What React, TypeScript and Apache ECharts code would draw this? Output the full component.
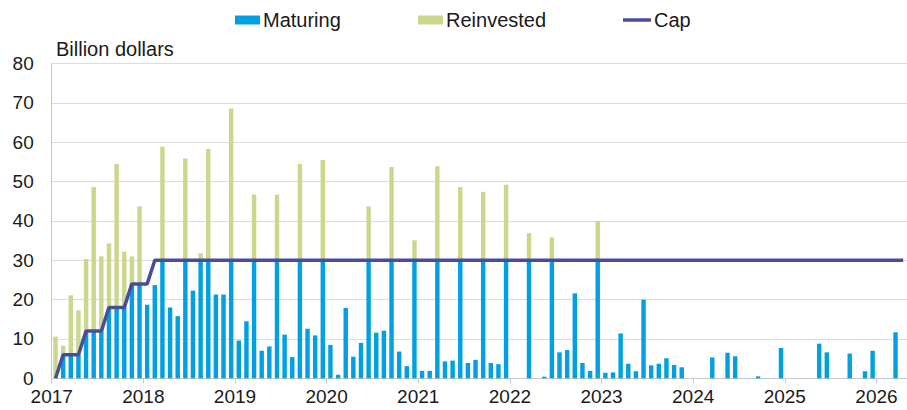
import React, { useEffect, useRef } from "react";
import * as echarts from "echarts";

// Monthly categories: Jan 2017 .. Apr 2026 (112 months)
const yearLabels: string[] = ["2017", "2018", "2019", "2020", "2021", "2022", "2023", "2024", "2025", "2026"];
const months: string[] = [];
for (const y of yearLabels) {
  for (let m = 1; m <= 12; m++) months.push(`${y}-${String(m).padStart(2, "0")}`);
}
const categories = months.slice(0, 112);

const maturing: number[] = [
  0, 6, 6, 6, 12, 12, 12, 18, 18, 18, 24, 24,
  18.7, 23.7, 30, 18.0, 15.8, 30, 22.3, 30, 30, 21.3, 21.3, 30,
  9.6, 14.5, 30, 7.0, 8.1, 30, 11.1, 5.4, 30, 12.6, 10.9, 30,
  8.5, 0.9, 17.9, 5.5, 9.0, 30, 11.6, 12.1, 30, 6.8, 3.1, 30,
  1.9, 1.9, 30, 4.3, 4.5, 30, 3.9, 4.7, 30, 3.9, 3.6, 30,
  0, 0, 30, 0, 0.4, 30, 6.6, 7.2, 21.6, 3.9, 1.9, 30,
  1.4, 1.5, 11.4, 3.7, 1.8, 20.0, 3.3, 3.7, 5.1, 3.4, 2.8, 0,
  0, 0, 5.3, 0, 6.5, 5.6, 0, 0, 0.5, 0, 0, 7.7,
  0, 0, 0, 0, 8.8, 6.6, 0, 0, 6.3, 0, 1.8, 7.0,
  0, 0, 11.7, 0,
];

const reinvested: number[] = [
  10.6, 2.3, 15.1, 11.3, 18.3, 36.6, 19.0, 16.3, 36.5, 14.2, 7.0, 19.7,
  0, 0, 28.9, 0, 0, 25.9, 0, 1.8, 28.3, 0, 0, 38.6,
  0, 0, 16.7, 0, 0, 16.7, 0, 0, 24.5, 0, 0, 25.5,
  0, 0, 0, 0, 0, 13.7, 0, 0, 23.7, 0, 0, 5.1,
  0, 0, 23.9, 0, 0, 18.6, 0, 0, 17.4, 0, 0, 19.2,
  0, 0, 6.9, 0, 0, 5.8, 0, 0, 0, 0, 0, 10.0,
  0, 0, 0, 0, 0, 0, 0, 0, 0, 0, 0, 0,
  0, 0, 0, 0, 0, 0, 0, 0, 0, 0, 0, 0,
  0, 0, 0, 0, 0, 0, 0, 0, 0, 0, 0, 0,
  0, 0, 0, 0,
];

const cap: number[] = [
  0, 6, 6, 6, 12, 12, 12, 18, 18, 18, 24, 24,
  24, 30, 30, 30, 30, 30, 30, 30, 30, 30, 30, 30,
  30, 30, 30, 30, 30, 30, 30, 30, 30, 30, 30, 30,
  30, 30, 30, 30, 30, 30, 30, 30, 30, 30, 30, 30,
  30, 30, 30, 30, 30, 30, 30, 30, 30, 30, 30, 30,
  30, 30, 30, 30, 30, 30, 30, 30, 30, 30, 30, 30,
  30, 30, 30, 30, 30, 30, 30, 30, 30, 30, 30, 30,
  30, 30, 30, 30, 30, 30, 30, 30, 30, 30, 30, 30,
  30, 30, 30, 30, 30, 30, 30, 30, 30, 30, 30, 30,
  30, 30, 30, 30,
];

const BLUE = "#00a0e2";
const GREEN = "#c9d88c";
const CAP = "#4b4b9e";
const FONT = "'Liberation Sans', Arial, sans-serif";
const TXT = "#1a1a1a";
const GRID = "#dcdcdc";

export default function App() {
  const ref = useRef<HTMLDivElement>(null);
  useEffect(() => {
    if (!ref.current) return;
    const chart = echarts.init(ref.current, null, { renderer: "svg" });
    const legendText = { fontFamily: FONT, fontSize: 20, color: TXT, padding: [0, 0, 0, -2] };
    chart.setOption({
      animation: false,
      textStyle: { fontFamily: FONT },
      title: {
        text: "Billion dollars",
        left: 56,
        top: 39,
        padding: 0,
        textStyle: { fontFamily: FONT, fontSize: 20, fontWeight: "normal", color: TXT },
      },
      legend: [
        {
          data: [{ name: "Maturing", icon: "rect" }],
          left: 235, top: 10, padding: 0, itemWidth: 25, itemHeight: 9, textStyle: legendText,
        },
        {
          data: [{ name: "Reinvested", icon: "rect" }],
          left: 418, top: 10, padding: 0, itemWidth: 25, itemHeight: 9, textStyle: legendText,
        },
        {
          data: [{ name: "Cap", icon: "path://M0 0 H28 V3.5 H0 Z" }],
          left: 623, top: 10, padding: 0, itemWidth: 28, itemHeight: 9, textStyle: legendText,
        },
      ],
      grid: { left: 51.7, right: -2, top: 63.6, bottom: 31.7, containLabel: false },
      xAxis: [
        { type: "category", data: categories, show: false, boundaryGap: true },
        {
          type: "value",
          min: 0,
          max: 112,
          interval: 12,
          position: "bottom",
          axisLine: { show: true, lineStyle: { color: "#c8c8c8", width: 1 } },
          axisTick: { show: true, length: 5, lineStyle: { color: "#c8c8c8" } },
          splitLine: { show: false },
          axisLabel: {
            fontFamily: FONT,
            fontSize: 19,
            color: TXT,
            margin: 9,
            showMaxLabel: false,
            formatter: (v: number) => (v % 12 === 0 ? yearLabels[v / 12] ?? "" : ""),
          },
        },
      ],
      yAxis: {
        type: "value",
        min: 0,
        max: 80,
        interval: 10,
        axisLine: { show: true, lineStyle: { color: "#c8c8c8" } },
        axisTick: { show: false },
        splitLine: { show: true, lineStyle: { color: GRID, width: 1 } },
        axisLabel: { fontFamily: FONT, fontSize: 19, color: TXT, margin: 18 },
      },
      series: [
        {
          name: "Maturing",
          type: "bar",
          stack: "total",
          xAxisIndex: 0,
          data: maturing,
          barWidth: "58%",
          itemStyle: { color: BLUE },
        },
        {
          name: "Reinvested",
          type: "bar",
          stack: "total",
          xAxisIndex: 0,
          data: reinvested,
          barWidth: "58%",
          itemStyle: { color: GREEN },
        },
        {
          name: "Cap",
          type: "line",
          xAxisIndex: 0,
          data: cap,
          symbol: "none",
          lineStyle: { color: CAP, width: 3.5 },
          itemStyle: { color: CAP },
          z: 5,
        },
      ],
    });
    return () => chart.dispose();
  }, []);
  return (
    <div
      ref={ref}
      style={{ position: "absolute", left: 0, top: 0, width: 907, height: 410, background: "#fff" }}
    />
  );
}
